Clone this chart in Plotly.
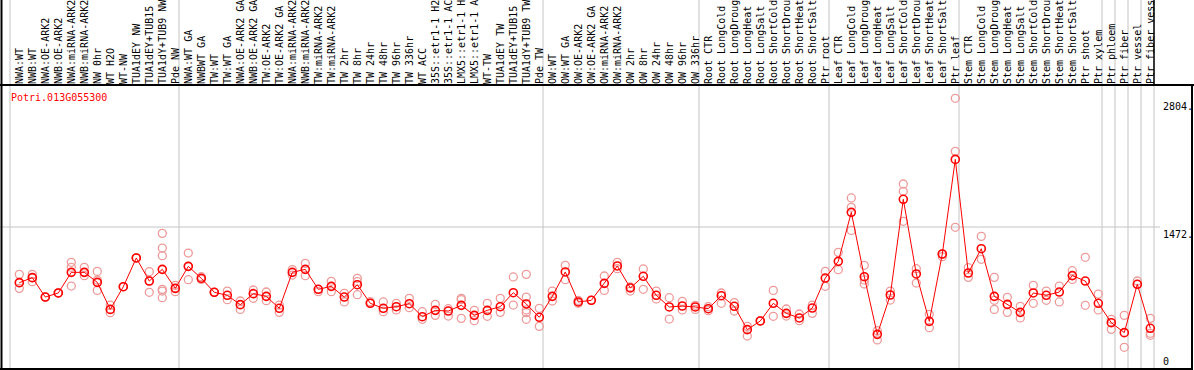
import plotly.graph_objects as go

W, H = 1194, 370

# ---------------- data ----------------
gene = "Potri.013G055300"

group_sizes = [13, 28, 12, 10, 10, 11, 1, 1, 1, 1]

labels = [
    "NWA:WT", "NWB:WT", "NWA:OE-ARK2", "NWB:OE-ARK2", "NWA:miRNA-ARK2", "NWB:miRNA-ARK2",
    "NW 0hr", "WT H2O", "WT-NW", "TUA1dEY NW", "TUA1dEY+TUB15 NW", "TUA1dY+TUB9 NW", "Pde NW",
    "NWA:WT GA", "NWBWT GA", "TW:WT", "TW:WT GA", "NWA:OE-ARK2 GA", "NWB:OE-ARK2 GA",
    "TW:OE-ARK2", "TW:OE-ARK2 GA", "NWA:miRNA-ARK2 GA", "NWB:miRNA-ARK2 GA", "TW:miRNA-ARK2",
    "TW:miRNA-ARK2 GA", "TW 2hr", "TW 8hr", "TW 24hr", "TW 48hr", "TW 96hr", "TW 336hr",
    "WT ACC", "35S::etr1-1 H2O", "35S::etr1-1 ACC", "LMX5::etr1-1 H2O", "LMX5::etr1-1 ACC",
    "WT-TW", "TUA1dEY TW", "TUA1dEY+TUB15 TW", "TUA1dY+TUB9 TW", "Pde TW",
    "OW:WT", "OW:WT GA", "OW:OE-ARK2", "OW:OE-ARK2 GA", "OW:miRNA-ARK2", "OW:miRNA-ARK2 GA",
    "OW 2hr", "OW 8hr", "OW 24hr", "OW 48hr", "OW 96hr", "OW 336hr",
    "Root CTR", "Root LongCold", "Root LongDrought", "Root LongHeat", "Root LongSalt",
    "Root ShortCold", "Root ShortDrought", "Root ShortHeat", "Root ShortSalt", "Ptr root",
    "Leaf CTR", "Leaf LongCold", "Leaf LongDrought", "Leaf LongHeat", "Leaf LongSalt",
    "Leaf ShortCold", "Leaf ShortDrought", "Leaf ShortHeat", "Leaf ShortSalt", "Ptr leaf",
    "Stem CTR", "Stem LongCold", "Stem LongDrought", "Stem LongHeat", "Stem LongSalt",
    "Stem ShortCold", "Stem ShortDrought", "Stem ShortHeat", "Stem ShortSalt", "Ptr shoot",
    "Ptr xylem", "Ptr phloem", "Ptr fiber", "Ptr vessel", "Ptr fiber vessel",
]

means = [
    895, 947, 746, 788, 1002, 1002, 898, 618, 853, 1151, 912, 1033, 836,
    1064, 940, 795, 764, 667, 781, 753, 629, 1002, 1033, 826, 857, 746, 874, 681, 629, 646,
    677, 542, 608, 601, 660, 556, 608, 646, 791, 674, 536, 753,
    1006, 695, 712, 888, 1068, 840, 961, 764, 643, 653, 643, 625,
    760, 650, 408, 498, 681, 577, 529, 632, 943, 1116,
    1624, 957, 359, 767, 1759, 985, 494, 1192, 2173, 995,
    1247, 753, 670, 587, 788, 764, 798, 968, 912, 681, 480,
    377, 878, 422,
]

replicates = [
    [981, 895, 836], [981, 947, 905], [746, 746], [788, 788], [1106, 1054, 860],
    [1054, 1002, 967], [1012, 922, 815], [663, 618, 584], [853, 853], [1151, 1151],
    [1009, 912, 795], [1406, 1254, 1175, 826, 808, 739], [867, 836, 802],
    [1202, 1064, 926], [957, 929], [795, 795], [808, 719], [705, 618], [819, 733],
    [798, 708], [663, 587], [1030, 974], [1095, 967], [826, 802], [909, 802],
    [784, 695], [940, 905, 770], [698, 681], [695, 594], [681, 612],
    [733, 636], [594, 515], [670, 556], [625, 549], [733, 719, 525], [608, 501],
    [681, 546], [733, 587], [954, 663], [981, 746, 612, 584, 515], [629, 442], [808, 705],
    [1075, 926], [681, 710], [712, 712], [964, 815], [1106, 1040], [808, 850],
    [1037, 826], [808, 726], [739, 518], [701, 612], [660, 618], [646, 605],
    [788, 681], [688, 601], [442, 342], [498, 498], [815, 546], [622, 549],
    [570, 501], [663, 577], [1012, 857], [1209, 1030],
    [1773, 1676, 1437], [1075, 923, 881], [397, 301], [808, 715], [1918, 1842, 1531],
    [1040, 891], [567, 428], [1164, 1192], [2806, 2256, 1469], [1050, 950],
    [1375, 1137], [950, 712, 618], [743, 587], [650, 529], [867, 681], [808, 712],
    [860, 695], [1019, 929], [1158, 660], [777, 612], [515, 411],
    [556, 225], [912, 878], [525, 370, 349],
]

y_max = 2944
y_ticks = [2804, 1472, 0]

# ---------------- layout geometry (pixels) ----------------
PLOT_TOP, PLOT_BOTTOM = 85, 369
FIRST_PX, STEP_PX, GROUP_LEFT_PX = 19.3, 13.0, 10.0


def px_x(p):
    return p / W


def px_y(p):
    return 1 - p / H


x_idx = list(range(len(labels)))
x_range = [-FIRST_PX / STEP_PX, (W - FIRST_PX) / STEP_PX]

fig = go.Figure()

# replicate points
rx, ry = [], []
for i, reps in enumerate(replicates):
    for v in reps:
        rx.append(i)
        ry.append(v)
fig.add_trace(go.Scatter(
    x=rx, y=ry, mode="markers",
    marker=dict(symbol="circle-open", size=8, color="#EE9A9A", line=dict(width=1.3, color="#EE9A9A")),
    hoverinfo="skip", showlegend=False, cliponaxis=False,
))
# mean line + markers
fig.add_trace(go.Scatter(
    x=x_idx, y=means, mode="lines+markers",
    line=dict(color="#FF0000", width=1),
    marker=dict(symbol="circle-open", size=8, color="#FF0000", line=dict(width=1.6, color="#FF0000")),
    showlegend=False, cliponaxis=False,
))

shapes = []
grey = "#C4C4C4"
# group separators
bounds = [0]
for s in group_sizes:
    bounds.append(bounds[-1] + s)
off = (GROUP_LEFT_PX - FIRST_PX) / STEP_PX
for k in bounds:
    shapes.append(dict(type="line", xref="x", yref="paper", x0=k + off, x1=k + off,
                       y0=0, y1=1, line=dict(color=grey, width=1), layer="below"))
# last separator black in label area
shapes.append(dict(type="line", xref="x", yref="paper", x0=bounds[-1] + off, x1=bounds[-1] + off,
                   y0=px_y(PLOT_TOP), y1=1, line=dict(color="black", width=1.5)))
# horizontal midline
shapes.append(dict(type="line", xref="paper", yref="y", x0=0, x1=px_x(1160),
                   y0=y_max / 2, y1=y_max / 2, line=dict(color=grey, width=1), layer="below"))
# frame lines
shapes.append(dict(type="line", xref="paper", yref="paper", x0=0, x1=1, y0=px_y(PLOT_TOP), y1=px_y(PLOT_TOP),
                   line=dict(color="black", width=2)))
shapes.append(dict(type="line", xref="paper", yref="paper", x0=0, x1=px_x(1193), y0=px_y(PLOT_BOTTOM),
                   y1=px_y(PLOT_BOTTOM), line=dict(color="black", width=2)))
shapes.append(dict(type="line", xref="paper", yref="paper", x0=px_x(1.5), x1=px_x(1.5), y0=0, y1=1,
                   line=dict(color="black", width=2)))
shapes.append(dict(type="line", xref="paper", yref="paper", x0=px_x(1192), x1=px_x(1192),
                   y0=px_y(PLOT_BOTTOM), y1=px_y(PLOT_TOP), line=dict(color="black", width=2)))

font = "DejaVu Sans Mono"
annotations = [
    dict(text=gene, xref="paper", yref="paper", x=px_x(9), y=px_y(97), xanchor="left", yanchor="middle",
         showarrow=False, font=dict(family=font, size=10, color="#FF0000")),
]
for v in y_ticks:
    annotations.append(dict(text=(f"{v}." if v else "0"), xref="paper", yref="y", x=px_x(1161), y=v,
                            xanchor="left", yanchor=("top" if v else "bottom"), showarrow=False,
                            font=dict(family=font, size=10, color="black")))

fig.update_layout(
    width=W, height=H, margin=dict(l=0, r=0, t=0, b=0),
    paper_bgcolor="white", plot_bgcolor="rgba(0,0,0,0)",
    xaxis=dict(range=x_range, side="top", tickmode="array", tickvals=x_idx, ticktext=labels,
               tickangle=-90, tickfont=dict(family=font, size=10, color="black"),
               showgrid=False, zeroline=False, showline=False, ticks="", automargin=False,
               domain=[0, 1]),
    yaxis=dict(range=[0, y_max], domain=[px_y(PLOT_BOTTOM), px_y(PLOT_TOP)], showticklabels=False,
               showgrid=False, zeroline=False, showline=False, ticks="", automargin=False),
    shapes=shapes, annotations=annotations,
)

fig.write_html(
    "out.html",
    config={"displayModeBar": False},
    post_script="document.body.style.margin='0px';document.body.style.overflow='hidden';",
)
